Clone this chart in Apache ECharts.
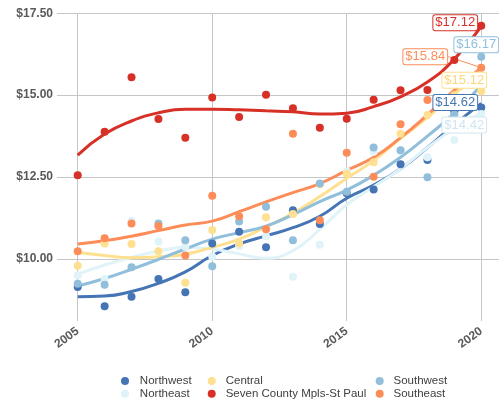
<!DOCTYPE html>
<html>
<head>
<meta charset="utf-8">
<script src="https://cdn.jsdelivr.net/npm/echarts@6/dist/echarts.min.js"></script>
<style>html,body{margin:0;padding:0;background:#fff}#c{width:499px;height:400px}</style>
</head>
<body>
<div id="c"></div>
<script>
// ---- data ----
const years = [2005,2006,2007,2008,2009,2010,2011,2012,2013,2014,2015,2016,2017,2018,2019,2020];
const xTicks = [2005,2010,2015,2020];
const yTicks = [10,12.5,15,17.5];
const seriesNames = ['Northwest','Northeast','Central','Seven County Mpls-St Paul','Southwest','Southeast'];

const northwest   = [9.14,8.55,8.84,9.38,8.98,10.47,10.83,10.35,11.48,11.06,12.00,12.12,12.89,13.02,14.50,14.62];
const northeast   = [9.49,9.38,11.16,10.53,10.37,10.07,10.38,10.69,9.45,10.43,12.67,13.27,13.30,13.10,13.63,14.42];
const central     = [9.79,10.47,10.45,10.23,9.27,10.88,10.47,11.27,11.37,12.28,12.60,12.95,13.82,14.39,15.00,15.12];
const sevenCounty = [12.55,13.88,15.55,14.27,13.70,14.93,14.33,15.01,14.60,14.00,14.28,14.86,15.15,15.16,16.07,17.12];
const southwest   = [9.24,9.21,9.74,11.08,10.57,9.77,11.14,11.59,10.57,12.30,12.05,13.40,13.32,12.49,14.41,16.17];
const southeast   = [10.23,10.63,11.08,11.00,10.10,11.93,11.30,10.90,13.82,11.18,13.24,12.51,14.11,14.85,15.40,15.84];

// smoothed trend lines
const trendNorthwest   = [8.84,8.86,9.00,9.25,9.60,10.10,10.45,10.70,10.95,11.30,11.85,12.25,12.75,13.40,14.10,14.75];
const trendNortheast   = [9.53,9.81,10.04,10.24,10.35,10.30,10.15,10.02,10.25,10.90,11.65,12.20,12.75,13.40,13.98,14.45];
const trendCentral     = [10.19,10.10,10.03,10.06,10.14,10.35,10.60,10.98,11.39,11.90,12.46,13.00,13.68,14.32,15.05,15.60];
const trendSevenCounty = [13.17,13.81,14.21,14.46,14.57,14.57,14.55,14.52,14.49,14.42,14.45,14.65,14.95,15.40,16.10,17.10];
const trendSouthwest   = [9.17,9.40,9.68,9.98,10.30,10.60,10.80,11.00,11.35,11.75,12.10,12.55,13.10,13.75,14.45,15.30];
const trendSoutheast   = [10.45,10.55,10.69,10.86,11.03,11.15,11.44,11.74,12.02,12.30,12.70,13.10,13.70,14.40,15.15,15.84];

const pointSets = [northwest, northeast, central, sevenCounty, southwest, southeast];
const trendSets = [trendNorthwest, trendNortheast, trendCentral, trendSevenCounty, trendSouthwest, trendSoutheast];

// ---- styles ----
const colors = ['#4575b4','#e0f3f8','#fee090','#d73027','#91bfdb','#fc8d59'];
const labelText = ['#4575b4','#cfe6f1','#fdd778','#d73027','#91bfdb','#fc8d59'];
const labelBorder = ['#4575b4','#cfe6f1','#fee090','#d73027','#91bfdb','#fc8d59'];
const labelOffsets = [[-26,-5],[-17,11],[-17,-11],[-26,-3],[-5,-12],[-56,-11]];
// legend item placement (left, top, icon+gap width) - column-major like the original
const legendPos = [[121,375,19.7],[121,387.7,19.7],[207.7,375,18],[207.7,387.7,18],[375.7,375,17.6],[375.7,387.7,17.6]];
const FONT = "'Liberation Sans', Arial, sans-serif";

const series = [];
trendSets.forEach((vals, s) => {
  series.push({
    name: seriesNames[s] + ' trend',
    type: 'line',
    smooth: 0.5,
    symbol: 'none',
    silent: true,
    z: 2,
    lineStyle: { color: colors[s], width: 3 },
    data: vals.map((v, i) => [years[i], v])
  });
});
pointSets.forEach((vals, s) => {
  const last = vals.length - 1;
  const isSE = s === 5;
  series.push({
    name: seriesNames[s],
    type: 'scatter',
    symbol: 'circle',
    symbolSize: 8,
    itemStyle: { color: colors[s], opacity: 1 },
    z: 4,
    labelLine: isSE ? { show: true, lineStyle: { color: colors[s], width: 1 } } : undefined,
    labelLayout: isSE ? { dx: labelOffsets[s][0], dy: labelOffsets[s][1] } : undefined,
    data: vals.map((v, i) => {
      if (i !== last) return [years[i], v];
      return {
        value: [years[i], v],
        label: {
          show: true,
          position: 'inside',
          offset: isSE ? [0, 0] : labelOffsets[s],
          formatter: p => '$' + p.value[1].toFixed(2),
          color: labelText[s],
          fontFamily: FONT,
          fontSize: 13,
          lineHeight: 13,
          backgroundColor: '#fff',
          borderColor: labelBorder[s],
          borderWidth: 1,
          borderRadius: 2,
          padding: [1, 2, 1, 2]
        }
      };
    })
  });
});

const legends = seriesNames.map((name, s) => ({
  orient: 'horizontal',
  icon: 'circle',
  itemWidth: legendPos[s][2],
  itemHeight: 8,
  padding: 0,
  left: legendPos[s][0],
  top: legendPos[s][1],
  data: [name],
  textStyle: { color: '#404040', fontSize: 11.5, fontFamily: FONT, lineHeight: 12 }
}));

const option = {
  animation: false,
  backgroundColor: '#fff',
  grid: { left: 57, right: 0, top: 13.3, bottom: 79 },
  xAxis: {
    type: 'value',
    min: 2004.23,
    max: 2020.66,
    axisLine: { show: false },
    axisTick: { show: false, customValues: xTicks },
    splitLine: { show: true, lineStyle: { color: '#c6c6c6', width: 1 } },
    axisLabel: {
      customValues: xTicks,
      rotate: 36,
      margin: 9,
      color: '#595959',
      fontWeight: 'bold',
      fontSize: 12,
      fontFamily: FONT,
      formatter: v => String(v)
    }
  },
  yAxis: {
    type: 'value',
    min: 8.1,
    max: 17.5,
    axisLine: { show: false },
    axisTick: { show: false, customValues: yTicks },
    splitLine: { show: true, lineStyle: { color: '#c6c6c6', width: 1 } },
    axisLabel: {
      customValues: yTicks,
      margin: 4,
      color: '#595959',
      fontWeight: 'bold',
      fontSize: 12,
      fontFamily: FONT,
      formatter: v => '$' + v.toFixed(2)
    }
  },
  legend: legends,
  series: series
};

const chart = echarts.init(document.getElementById('c'), null, { renderer: 'canvas' });
chart.setOption(option);
</script>
</body>
</html>
